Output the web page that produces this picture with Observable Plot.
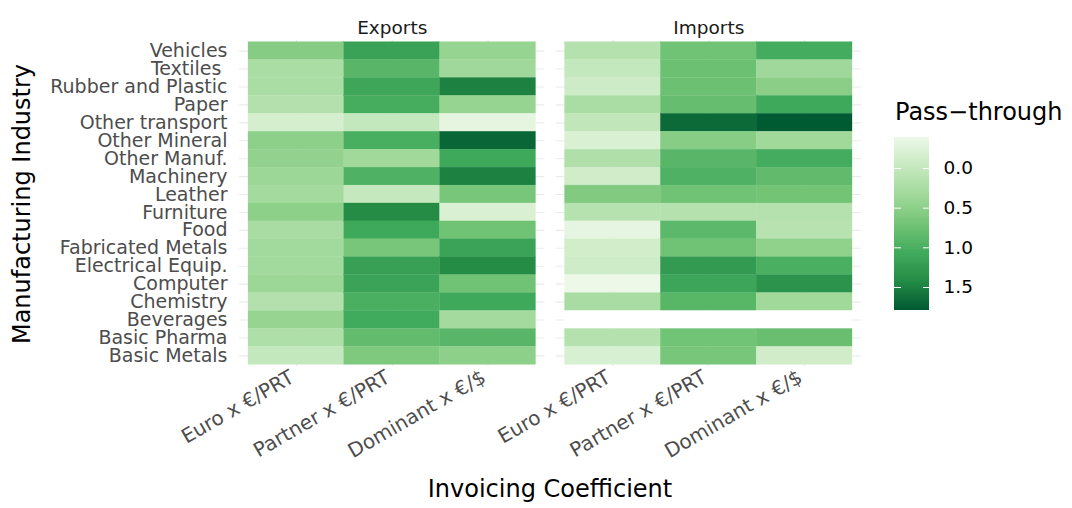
<!DOCTYPE html>
<html>
<head>
<meta charset="utf-8">
<script src="https://cdn.jsdelivr.net/npm/d3@7"></script>
<script src="https://cdn.jsdelivr.net/npm/@observablehq/plot@0.6"></script>
<style>
  html, body { margin: 0; padding: 0; background: white; }
  #wrap { position: relative; width: 1072px; height: 508px; font-family: "DejaVu Sans", sans-serif; overflow: hidden; }
  #wrap svg { position: absolute; top: 0; }
  .ttl { position: absolute; font-size: 24px; line-height: 24px; color: #000; white-space: nowrap; }
</style>
</head>
<body>
<div id="wrap">
  <div class="ttl" id="ytitle" style="left:-178px; top:191.5px; width:400px; text-align:center; transform: rotate(-90deg);">Manufacturing Industry</div>
  <div class="ttl" id="xtitle" style="left:250px; top:477px; width:600px; text-align:center;">Invoicing Coefficient</div>
  <div class="ttl" id="ltitle" style="left:895px; top:100px;">Pass−through</div>
</div>
<script>
const industries = ["Vehicles","Textiles ","Rubber and Plastic","Paper","Other transport","Other Mineral","Other Manuf.","Machinery","Leather","Furniture","Food","Fabricated Metals","Electrical Equip.","Computer","Chemistry","Beverages","Basic Pharma","Basic Metals"];
const coefficients = ["Euro x €/PRT","Partner x €/PRT","Dominant x €/$"];
const flows = ["Exports","Imports"];

const exportsEuro     = [0.56,0.25,0.25,0.17,-0.15,0.50,0.46,0.37,0.31,0.50,0.26,0.33,0.33,0.37,0.17,0.42,0.20,0.00];
const exportsPartner  = [1.16,0.90,1.12,1.03,0.00,1.02,0.34,0.97,-0.01,1.42,1.09,0.67,1.19,1.15,1.00,1.07,0.83,0.62];
const exportsDominant = [0.43,0.35,1.50,0.43,-0.31,1.70,1.10,1.50,0.67,-0.20,0.73,1.15,1.41,0.73,1.10,0.31,0.90,0.50];
const importsEuro     = [0.16,0.00,-0.08,0.25,0.04,-0.20,0.19,-0.11,0.60,0.14,-0.32,-0.12,-0.10,-0.39,0.27,null,0.16,-0.19];
const importsPartner  = [0.73,0.76,0.76,0.80,1.67,0.55,0.90,0.97,0.73,0.16,0.88,0.73,1.24,1.13,0.91,null,0.72,0.67];
const importsDominant = [1.05,0.35,0.52,1.10,1.79,0.34,1.05,0.84,0.70,0.16,0.12,0.48,1.00,1.34,0.34,null,0.78,-0.11];

const colorLimits = [-0.39, 1.79];
const legendTicks = [0, 0.5, 1, 1.5];
const greens = ["#edf8e9","#c7e9c0","#a1d99b","#74c476","#41ab5d","#238b45","#005a32"];

const series = {
  Exports: [exportsEuro, exportsPartner, exportsDominant],
  Imports: [importsEuro, importsPartner, importsDominant]
};
const data = [];
for (const flow of flows) {
  coefficients.forEach((coef, j) => {
    industries.forEach((ind, i) => {
      data.push({flow, coef, industry: ind, value: series[flow][j][i]});
    });
  });
}

const interp = d3.piecewise(d3.interpolateLab, greens);
const colorScale = {type: "linear", domain: colorLimits, interpolate: t => interp(t), unknown: "white"};

const chart = Plot.plot({
  width: 880, height: 508,
  marginLeft: 239, marginRight: 19, marginTop: 40, marginBottom: 142,
  style: {fontFamily: "DejaVu Sans, sans-serif", background: "transparent", overflow: "visible"},
  fx: {domain: flows, paddingInner: 0.035, paddingOuter: 0, round: false, label: null},
  x: {domain: coefficients, paddingInner: 0, paddingOuter: 0.094, round: false, label: null},
  y: {domain: industries, paddingInner: 0, paddingOuter: 0.094, round: false, label: null},
  color: colorScale,
  marks: [
    Plot.gridX({stroke: "#ebebeb", strokeOpacity: 1, strokeWidth: 1.1}),
    Plot.gridY({stroke: "#ebebeb", strokeOpacity: 1, strokeWidth: 1.1}),
    Plot.cell(data, {fx: "flow", x: "coef", y: "industry", fill: "value", stroke: "value", strokeWidth: 0.3, inset: 0}),
    Plot.axisY({tickSize: 0, tickPadding: 12, fontSize: 19, color: "#4d4d4d", label: null}),
    Plot.axisX({tickSize: 0, tickPadding: 9, dx: -4, tickRotate: -30, fontSize: 20, color: "#4d4d4d", label: null}),
    Plot.axisFx({anchor: "top", tickSize: 0, tickPadding: 7, fontSize: 18.5, color: "#1a1a1a", label: null})
  ]
});
chart.style.left = "0px";
document.getElementById("wrap").appendChild(chart);

// vertical colour bar legend
const nStops = 200;
const stepV = (colorLimits[1] - colorLimits[0]) / nStops;
const stops = d3.range(nStops).map(i => colorLimits[0] + stepV * i);
const legend = Plot.plot({
  width: 180, height: 508,
  marginLeft: 14, marginRight: 131, marginTop: 137, marginBottom: 198,
  style: {fontFamily: "DejaVu Sans, sans-serif", background: "transparent", overflow: "visible"},
  y: {domain: colorLimits, reverse: true, label: null},
  color: colorScale,
  marks: [
    Plot.rect(stops, {y1: d => d, y2: d => Math.min(d + stepV * 2.5, colorLimits[1]), fill: d => d + stepV / 2, shapeRendering: "crispEdges"}),
    Plot.axisY(legendTicks, {anchor: "left", tickSize: -7, stroke: "white", strokeWidth: 1, text: null, label: null}),
    Plot.axisY(legendTicks, {anchor: "right", tickSize: -7, stroke: "white", strokeWidth: 1, tickPadding: 21, fontSize: 18.5, color: "#000", tickFormat: d3.format(".1f"), label: null})
  ]
});
legend.style.left = "880px";
document.getElementById("wrap").appendChild(legend);
</script>
</body>
</html>
